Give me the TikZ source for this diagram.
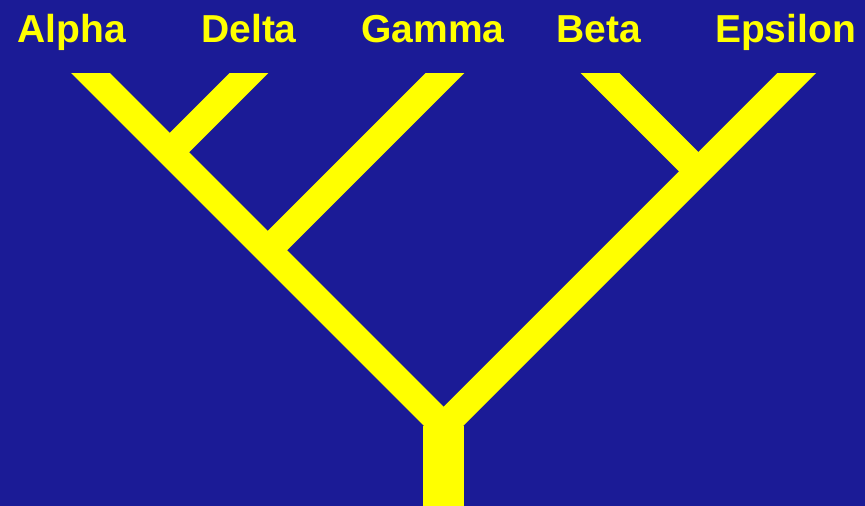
\documentclass[tikz,border=0pt]{standalone}
\usepackage{fontspec}
\setmainfont{Liberation Sans}
\usetikzlibrary{positioning}
\definecolor{bg}{HTML}{1B1B96}
\definecolor{yy}{HTML}{FFFF00}

\begin{document}
\begin{tikzpicture}[x=1pt, y=-1pt, font=\bfseries\fontsize{39}{44}\selectfont,
    taxon/.style={text=yy, anchor=base, inner sep=0pt},
    branch/.style={draw=yy, line width=27.5pt, line cap=butt},
    stem/.style={draw=yy, line width=41pt, line cap=butt}]
  \fill[bg] (0,0) rectangle (865,506);
  \useasboundingbox (0,0) rectangle (865,506);

  \node[taxon] (alpha) at (72,42) {Alpha};
  \node[taxon] (delta) at (249,42) {Delta};
  \node[taxon] (gamma) at (433,42) {Gamma};
  \node[taxon] (beta) at (599,42) {Beta};
  \node[taxon] (epsilon) at (785.5,42) {Epsilon};

  % tips and splits
  \coordinate (tA) at (90.5,73);
  \coordinate (tD) at (249,73);
  \coordinate (tG) at (445,73);
  \coordinate (tB) at (600,73);
  \coordinate (tE) at (796.7,73);
  \coordinate (sAD) at (169.75,152.25);
  \coordinate (sAG) at (267.75,250.25);
  \coordinate (sBE) at (698.35,171.35);
  \coordinate (root) at (443.6,426.1);
  \coordinate (base) at (443.6,506);

  \begin{scope}
    \clip (0,73) rectangle (865,506);
    \draw[branch, shorten <=-20pt] (tA) -- (root);
    \draw[branch, shorten <=-20pt] (tE) -- (root);
    \draw[branch, shorten <=-20pt] (tD) -- (sAD);
    \draw[branch, shorten <=-20pt] (tG) -- (sAG);
    \draw[branch, shorten <=-20pt] (tB) -- (sBE);
  \end{scope}
  \draw[stem] (root) -- (base);
\end{tikzpicture}
\end{document}
